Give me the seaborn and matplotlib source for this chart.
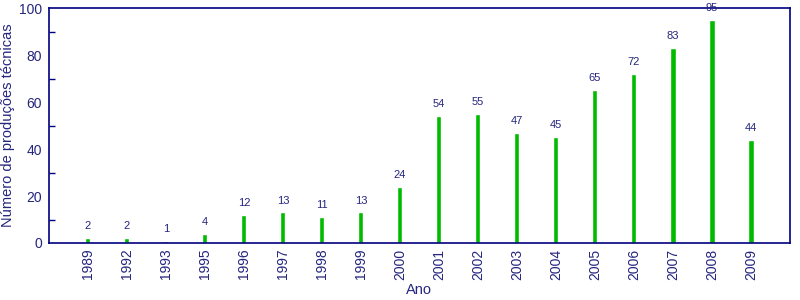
import matplotlib
matplotlib.use("Agg")
import matplotlib.pyplot as plt
import seaborn as sns
import pandas as pd
from matplotlib.ticker import MultipleLocator, FixedLocator

years = ["1989", "1992", "1993", "1995", "1996", "1997", "1998", "1999", "2000",
         "2001", "2002", "2003", "2004", "2005", "2006", "2007", "2008", "2009"]
counts = [2, 2, 1, 4, 12, 13, 11, 13, 24, 54, 55, 47, 45, 65, 72, 83, 95, 44]

sns.set_theme(style="white")
plt.rcParams['font.family'] = ['Liberation Sans', 'DejaVu Sans']

navy = "#000080"
txt = "#25257f"
green = "#00bb00"

df = pd.DataFrame({"Ano": years, "n": counts})

fig = plt.figure(figsize=(8, 3), dpi=100)
ax = fig.add_axes([0.061, 0.19, 0.9265, 0.783])
sns.barplot(data=df, x="Ano", y="n", color=green, width=0.13, saturation=1, ax=ax)

for p, v in zip(ax.patches, counts):
    ax.annotate(str(v), (p.get_x() + p.get_width() / 2, p.get_height()),
                xytext=(0, 5), textcoords="offset points", ha="center", va="bottom",
                fontsize=8, color=txt)

ax.set_xlim(-1, len(years))
ax.set_ylim(0, 100)
ax.yaxis.set_major_locator(MultipleLocator(20))
ax.yaxis.set_minor_locator(FixedLocator([10, 30, 50, 70, 90]))
ax.tick_params(axis="y", which="major", length=0, labelsize=10, colors=txt, pad=5)
ax.tick_params(axis="y", which="minor", length=4, direction="in", color=navy, left=True)
ax.tick_params(axis="x", length=0, labelsize=10, colors=txt, rotation=90, pad=4)
for s in ax.spines.values():
    s.set_color(navy)
    s.set_linewidth(1.2)
ax.set_xlabel("Ano", fontsize=10.5, color=txt, labelpad=2)
ax.set_ylabel("Número de produções técnicas", fontsize=10.5, color=txt, labelpad=3)

fig.savefig("out.png", dpi=100)
